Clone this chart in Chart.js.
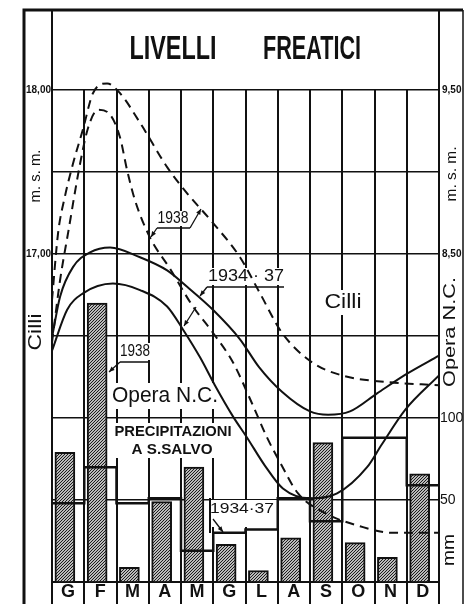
<!DOCTYPE html>
<html>
<head>
<meta charset="utf-8">
<title>Livelli freatici</title>
<script src="https://cdn.jsdelivr.net/npm/chart.js@4.4.1/dist/chart.umd.min.js"></script>
<style>
  html, body { margin: 0; padding: 0; background: #fff; }
  canvas { display: block; }
</style>
</head>
<body>
<canvas id="livelli" width="464" height="604"></canvas>
<script>
// month initials (Gennaio ... Dicembre)
const months = ["G", "F", "M", "A", "M", "G", "L", "A", "S", "O", "N", "D"];

// precipitazioni a S. Salvo, mm
const rain1938 = [79, 170, 9, 49, 70, 23, 7, 27, 85, 24, 15, 66];
const rainAvg = [48, 70, 48, 51, 19, 30, 32, 51, 37, 88, 88, 59]; // 1934-37

// water table levels, m s.m. (x = months from 1 Jan)
const cilli1938X = [0, 0.19, 0.40, 0.65, 0.96, 1.27, 1.71, 2.11, 2.73, 3.57, 4.19, 4.99, 5.83, 6.45, 7.13, 8.06, 8.99, 10.33, 12];
const cilli1938Y = [16.72, 17.13, 17.35, 17.55, 17.76, 17.98, 18.04, 17.98, 17.80, 17.53, 17.37, 17.19, 16.98, 16.76, 16.52, 16.34, 16.26, 16.22, 16.20];

const opera1938X = [0, 0.25, 0.50, 0.87, 1.12, 1.43, 1.80, 2.11, 2.33, 2.57, 3.04, 3.66, 4.37, 4.99, 5.61, 6.20, 6.67, 7.07, 7.63, 8.47, 9.55, 10.54, 12];
const opera1938Y = [7.96, 8.34, 8.63, 9.05, 9.27, 9.38, 9.35, 9.21, 9.01, 8.83, 8.60, 8.41, 8.18, 8.02, 7.84, 7.59, 7.38, 7.23, 7.04, 6.92, 6.84, 6.80, 6.80];

const cilliAvgX = [0, 0.25, 0.65, 1.18, 1.80, 2.73, 3.57, 4.19, 4.99, 5.83, 6.42, 7.13, 8.0, 8.56, 9.24, 10.08, 11.01, 12];
const cilliAvgY = [16.49, 16.74, 16.92, 17.01, 17.04, 16.98, 16.90, 16.80, 16.66, 16.48, 16.31, 16.16, 16.04, 16.02, 16.04, 16.15, 16.27, 16.38];

const operaAvgX = [0, 0.47, 0.96, 1.89, 2.73, 3.57, 4.06, 4.59, 5.05, 5.61, 6.05, 6.60, 7.16, 8.0, 8.84, 9.77, 10.23, 10.95, 12];
const operaAvgY = [7.91, 8.16, 8.26, 8.32, 8.28, 8.18, 8.04, 7.87, 7.70, 7.51, 7.38, 7.21, 7.07, 7.01, 7.04, 7.20, 7.34, 7.55, 7.76];

// labelled ticks
const cilliTicks = [18, 17];
const operaTicks = [9.5, 8.5];
const rainTicks = [100, 50];

const INK = "#111";
const FONT = "'Liberation Sans', Arial, sans-serif";

const pts = (xs, ys) => xs.map((x, i) => ({ x: x, y: ys[i] }));
const hasTick = (list, v) => list.some(t => Math.abs(t - v) < 1e-6);
const comma = v => v.toFixed(2).replace(".", ",");

var ctx = document.getElementById("livelli").getContext("2d");

// diagonal hatching for the 1938 bars
const hatch = (function () {
  const c = document.createElement("canvas");
  c.width = 3; c.height = 3;
  const g = c.getContext("2d");
  g.fillStyle = "#fff"; g.fillRect(0, 0, 3, 3);
  g.strokeStyle = "#111"; g.lineWidth = 1.1;
  g.beginPath();
  g.moveTo(0, 3); g.lineTo(3, 0);
  g.moveTo(-1, 1); g.lineTo(1, -1);
  g.moveTo(2, 4); g.lineTo(4, 2);
  g.stroke();
  return ctx.createPattern(c, "repeat");
})();

// text squeezed to a given width (the original lettering is condensed)
function fit(c, txt, cx, cy, w, font, rot) {
  c.save();
  c.font = font;
  c.translate(cx, cy);
  if (rot) c.rotate(rot);
  const m = c.measureText(txt).width;
  c.scale(w / m, 1);
  c.textAlign = "center";
  c.textBaseline = "middle";
  c.fillText(txt, 0, 0);
  c.restore();
}

function arrow(c, x1, y1, x2, y2) {
  c.beginPath(); c.moveTo(x1, y1); c.lineTo(x2, y2); c.stroke();
  const a = Math.atan2(y2 - y1, x2 - x1), L = 6;
  c.beginPath();
  c.moveTo(x2, y2);
  c.lineTo(x2 - L * Math.cos(a - 0.4), y2 - L * Math.sin(a - 0.4));
  c.lineTo(x2 - L * Math.cos(a + 0.4), y2 - L * Math.sin(a + 0.4));
  c.closePath(); c.fill();
}

// white patches behind the in-plot lettering (grid is broken there)
const blanks = [
  [156, 211, 36, 15], [206, 268, 80, 17], [322, 290, 43, 25],
  [118, 343, 34, 17], [110, 383, 111, 26], [112, 423, 123, 35], [211, 500, 66, 27]
];

const decor = {
  id: "decor",
  afterLayout(chart) {
    // both right-hand scales share the one narrow label column
    const r = chart.chartArea.right;
    ["yO", "yP"].forEach(id => {
      const s = chart.scales[id];
      s.left = r; s.right = r + 25; s.width = 25;
    });
  },
  beforeDatasetsDraw(chart) {
    const c = chart.ctx;
    c.save();
    c.fillStyle = "#fff";
    blanks.forEach(b => c.fillRect(b[0], b[1], b[2], b[3]));
    c.restore();
  },
  afterDraw(chart) {
    const c = chart.ctx, a = chart.chartArea;
    c.save();
    c.strokeStyle = INK; c.fillStyle = INK;

    // frame and title box
    c.lineWidth = 3;
    c.beginPath();
    c.moveTo(24, 604); c.lineTo(24, 10); c.lineTo(463, 10);
    c.stroke();
    c.lineWidth = 1.5;
    c.beginPath(); c.moveTo(463, 10); c.lineTo(463, 604); c.stroke();
    c.lineWidth = 2;
    c.beginPath();
    c.moveTo(a.left, 10); c.lineTo(a.left, a.top);
    c.moveTo(a.right, 10); c.lineTo(a.right, a.top);
    c.stroke();

    // title
    fit(c, "LIVELLI", 173, 50, 87, "bold 34px " + FONT);
    fit(c, "FREATICI", 312, 50, 98, "bold 34px " + FONT);

    // side captions
    const up = -Math.PI / 2;
    fit(c, "m. s. m.", 36, 176, 53, "15px " + FONT, up);
    fit(c, "Cilli", 36, 332, 37, "18px " + FONT, up);
    fit(c, "m. s. m.", 452, 174, 55, "15px " + FONT, up);
    fit(c, "Opera N.C.", 450, 332, 110, "17px " + FONT, up);
    fit(c, "mm", 449, 550, 32, "17px " + FONT, up);

    // in-plot lettering
    fit(c, "Cilli", 343, 302, 37, "20px " + FONT);
    fit(c, "Opera N.C.", 165, 396, 106, "22px " + FONT);
    fit(c, "PRECIPITAZIONI", 173, 432, 117, "bold 15px " + FONT);
    fit(c, "A S.SALVO", 172, 450, 81, "bold 15px " + FONT);
    fit(c, "1938", 173, 219, 31, "16px " + FONT);
    fit(c, "1934 · 37", 246, 277, 76, "16px " + FONT);
    fit(c, "1938", 135, 352, 30, "16px " + FONT);
    fit(c, "1934·37", 242, 509, 64, "15px " + FONT);

    // underlines and leaders
    c.lineWidth = 1.3;
    c.beginPath();
    c.moveTo(157, 228); c.lineTo(190, 228);
    c.moveTo(207, 287); c.lineTo(284, 287);
    c.moveTo(120, 362); c.lineTo(148, 362);
    c.stroke();
    arrow(c, 190, 228, 201, 209);
    arrow(c, 157, 228, 151, 237);
    arrow(c, 207, 287, 200, 296);
    arrow(c, 196, 307, 184, 326);
    arrow(c, 120, 362, 109, 372);
    arrow(c, 213, 519, 223, 532);
    c.lineWidth = 2;
    c.beginPath(); c.moveTo(210, 498); c.lineTo(210, 533); c.stroke();
    c.restore();
  }
};

var config = {
  type: "bar",
  data: {
    datasets: [
      {
        type: "line", label: "Cilli 1938", data: pts(cilli1938X, cilli1938Y), yAxisID: "yC",
        borderColor: INK, borderWidth: 2, borderDash: [9, 6], pointRadius: 0,
        cubicInterpolationMode: "monotone", clip: false, order: 1
      },
      {
        type: "line", label: "Opera N.C. 1938", data: pts(opera1938X, opera1938Y), yAxisID: "yO",
        borderColor: INK, borderWidth: 2, borderDash: [9, 6], pointRadius: 0,
        cubicInterpolationMode: "monotone", order: 1
      },
      {
        type: "line", label: "Cilli 1934-37", data: pts(cilliAvgX, cilliAvgY), yAxisID: "yC",
        borderColor: INK, borderWidth: 2, pointRadius: 0,
        cubicInterpolationMode: "monotone", order: 1
      },
      {
        type: "line", label: "Opera N.C. 1934-37", data: pts(operaAvgX, operaAvgY), yAxisID: "yO",
        borderColor: INK, borderWidth: 2, pointRadius: 0,
        cubicInterpolationMode: "monotone", order: 1
      },
      {
        type: "line", label: "Precipitazioni 1934-37",
        data: rainAvg.map((v, i) => ({ x: i, y: v })).concat([{ x: 12, y: rainAvg[11] }]),
        yAxisID: "yP", stepped: "before",
        borderColor: INK, borderWidth: 2.5, pointRadius: 0, order: 2
      },
      {
        type: "bar", label: "Precipitazioni 1938",
        data: rain1938.map((v, i) => ({ x: i + 0.4, y: v })),
        yAxisID: "yP", barThickness: 20,
        backgroundColor: hatch, borderColor: INK, borderWidth: 2,
        borderSkipped: "bottom", order: 5
      }
    ]
  },
  options: {
    responsive: false,
    animation: false,
    events: [],
    layout: { padding: { left: 24, right: 0, top: 90, bottom: 0 } },
    plugins: {
      legend: { display: false },
      tooltip: { enabled: false }
    },
    scales: {
      x: {
        type: "linear", min: 0, max: 12, offset: false,
        afterFit: s => { s.height = 22; },
        grid: { offset: false, color: INK, lineWidth: 2, drawTicks: true, tickLength: 22, tickColor: INK, tickWidth: 2 },
        border: { display: true, color: INK, width: 2 },
        ticks: {
          stepSize: 1, autoSkip: false, maxRotation: 0, padding: -23, labelOffset: 16,
          color: INK, font: { family: FONT, size: 18, weight: "bold" },
          callback: v => months[v] || ""
        }
      },
      yC: {
        position: "left", min: 15, max: 18,
        afterFit: s => { s.width = 28; },
        grid: { display: false, drawTicks: false },
        border: { display: true, color: INK, width: 2 },
        ticks: {
          stepSize: 0.5, padding: 1, color: INK, autoSkip: false,
          font: { family: FONT, size: 10, weight: "bold" },
          callback: v => hasTick(cilliTicks, v) ? comma(v) : ""
        }
      },
      yO: {
        position: "right", min: 6.5, max: 9.5,
        afterFit: s => { s.width = 0; },
        grid: { display: false, drawTicks: false },
        border: { display: true, color: INK, width: 2 },
        ticks: {
          stepSize: 0.5, padding: 3, color: INK, autoSkip: false,
          font: { family: FONT, size: 10, weight: "bold" },
          callback: v => hasTick(operaTicks, v) ? comma(v) : ""
        }
      },
      yP: {
        position: "right", min: 0, max: 300,
        afterFit: s => { s.width = 25; },
        grid: { color: INK, lineWidth: 1.5, drawTicks: false },
        border: { display: false },
        ticks: {
          stepSize: 50, padding: 1, color: INK, autoSkip: false,
          font: { family: FONT, size: 14 },
          callback: v => hasTick(rainTicks, v) ? String(v) : ""
        }
      }
    }
  },
  plugins: [decor]
};

var livelliChart = new Chart(ctx, config);
</script>
</body>
</html>
